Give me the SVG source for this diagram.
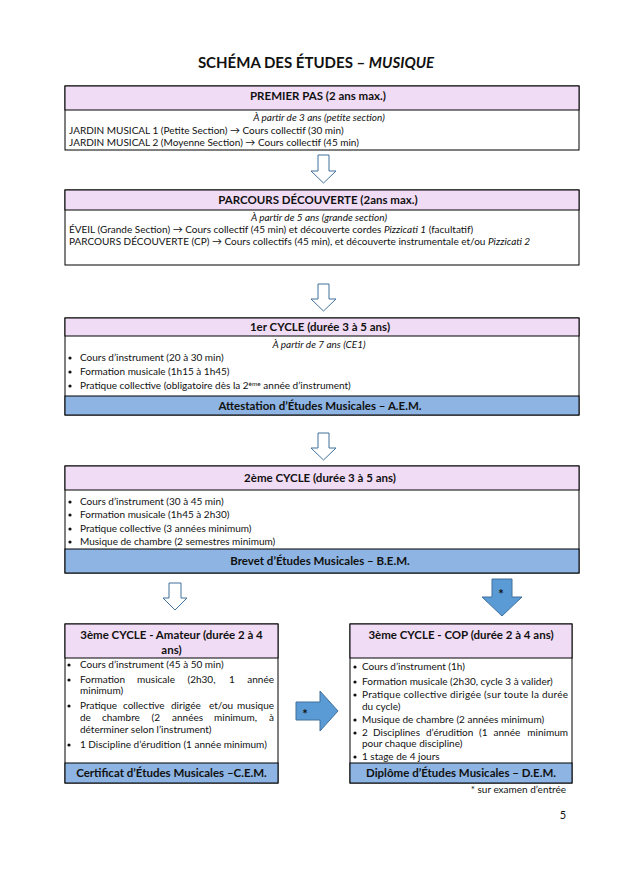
<svg xmlns="http://www.w3.org/2000/svg" width="632" height="879" viewBox="0 0 632 879">
<style>
text{font-family:Lato,"Open Sans","Liberation Sans",sans-serif;fill:#111}
.t{font-size:15px;font-weight:700}
.h{font-size:11.5px;font-weight:700;text-anchor:middle}
.b{font-size:10px}
.i{font-size:10px;font-style:italic;text-anchor:middle}
.s{font-size:13px;font-weight:700;text-anchor:middle}
.box{fill:#fff;stroke:#000;stroke-width:1}
.hd{fill:#F1DCF6;stroke:#000;stroke-width:1}
.bd{fill:#8DB4E2;stroke:#000;stroke-width:1}
.ah{fill:#fff;stroke:#41719C;stroke-width:1}
.af{fill:#5B9BD5;stroke:#41719C;stroke-width:1}
.e{text-anchor:end}
</style>
<defs><circle id="dot" r="1.6" fill="#111"/></defs>
<rect width="632" height="879" fill="#fff"/>
<text class="t" x="316" y="68" text-anchor="middle">SCHÉMA DES ÉTUDES – <tspan font-style="italic">MUSIQUE</tspan></text>

<g id="premier-pas">
<rect class="box" x="65" y="86" width="514" height="64"/>
<rect class="hd" x="65" y="86" width="514" height="24"/>
<text class="h" x="318" y="100">PREMIER PAS (2 ans max.)</text>
<text class="i" x="319" y="121">À partir de 3 ans (petite section)</text>
<text class="b" x="69" y="134">JARDIN MUSICAL 1 (Petite Section) → Cours collectif (30 min)</text>
<text class="b" x="69" y="146">JARDIN MUSICAL 2 (Moyenne Section) → Cours collectif (45 min)</text>
</g>

<g id="parcours-decouverte">
<rect class="box" x="65" y="190" width="514" height="75"/>
<rect class="hd" x="65" y="190" width="514" height="20"/>
<text class="h" x="318" y="204">PARCOURS DÉCOUVERTE (2ans max.)</text>
<text class="i" x="319" y="221">À partir de 5 ans (grande section)</text>
<text class="b" x="69" y="233">ÉVEIL (Grande Section) → Cours collectif (45 min) et découverte cordes <tspan font-style="italic">Pizzicati 1</tspan> (facultatif)</text>
<text class="b" x="69" y="245">PARCOURS DÉCOUVERTE (CP) → Cours collectifs (45 min), et découverte instrumentale et/ou <tspan font-style="italic">Pizzicati 2</tspan></text>
</g>

<g id="cycle1">
<rect class="box" x="65" y="318" width="514" height="97"/>
<rect class="hd" x="65" y="318" width="514" height="18"/>
<rect class="bd" x="65" y="396" width="514" height="19"/>
<text class="h" x="320" y="331">1er CYCLE (durée 3 à 5 ans)</text>
<text class="i" x="319" y="348">À partir de 7 ans (CE1)</text>
<use href="#dot" x="70" y="358"/><text class="b" x="80" y="361">Cours d’instrument (20 à 30 min)</text>
<use href="#dot" x="70" y="372"/><text class="b" x="80" y="375">Formation musicale (1h15 à 1h45)</text>
<use href="#dot" x="70" y="386"/><text class="b" x="80" y="389">Pratique collective (obligatoire dès la 2<tspan font-size="6.5" dy="-3.5">ème</tspan><tspan dy="3.5"> année d’instrument)</tspan></text>
<text class="h" x="320" y="409.5">Attestation d’Études Musicales – A.E.M.</text>
</g>

<g id="cycle2">
<rect class="box" x="65" y="466" width="514" height="107"/>
<rect class="hd" x="65" y="466" width="514" height="24"/>
<rect class="bd" x="65" y="549" width="514" height="24"/>
<text class="h" x="320" y="482">2ème CYCLE (durée 3 à 5 ans)</text>
<use href="#dot" x="70" y="502"/><text class="b" x="80" y="505">Cours d’instrument (30 à 45 min)</text>
<use href="#dot" x="70" y="515"/><text class="b" x="80" y="518">Formation musicale (1h45 à 2h30)</text>
<use href="#dot" x="70" y="529"/><text class="b" x="80" y="532">Pratique collective (3 années minimum)</text>
<use href="#dot" x="70" y="542"/><text class="b" x="80" y="545">Musique de chambre (2 semestres minimum)</text>
<text class="h" x="320" y="565">Brevet d’Études Musicales – B.E.M.</text>
</g>

<g id="cycle3-amateur">
<rect class="box" x="65" y="624" width="213" height="159"/>
<rect class="hd" x="65" y="624" width="213" height="34"/>
<rect class="bd" x="65" y="763" width="213" height="20"/>
<text class="h" x="171.5" y="639">3ème CYCLE - Amateur (durée 2 à 4</text>
<text class="h" x="171.5" y="654">ans)</text>
<use href="#dot" x="69" y="665"/><text class="b" x="80" y="668">Cours d’instrument (45 à 50 min)</text>
<use href="#dot" x="69" y="680"/><text class="b" y="683"><tspan x="80">Formation</tspan><tspan x="137">musicale</tspan><tspan x="187.5">(2h30,</tspan><tspan x="229">1</tspan></text><text class="b e" x="274" y="683">année</text>
<text class="b" x="80" y="694">minimum)</text>
<use href="#dot" x="69" y="706"/><text class="b" y="709"><tspan x="80">Pratique</tspan><tspan x="123">collective</tspan><tspan x="171">dirigée</tspan><tspan x="209">et/ou</tspan></text><text class="b e" x="274" y="709">musique</text>
<text class="b" y="721"><tspan x="80">de</tspan><tspan x="102">chambre</tspan><tspan x="151.5">(2</tspan><tspan x="172">années</tspan><tspan x="214">minimum,</tspan></text><text class="b e" x="274" y="721">à</text>
<text class="b" x="80" y="733">déterminer selon l’instrument)</text>
<use href="#dot" x="69" y="745"/><text class="b" x="80" y="748">1 Discipline d’érudition (1 année minimum)</text>
<text class="h" x="171.5" y="777">Certificat d’Études Musicales –C.E.M.</text>
</g>

<g id="cycle3-cop">
<rect class="box" x="350" y="624" width="222" height="159"/>
<rect class="hd" x="350" y="624" width="222" height="34"/>
<rect class="bd" x="350" y="763" width="222" height="20"/>
<text class="h" x="461" y="639">3ème CYCLE - COP (durée 2 à 4 ans)</text>
<use href="#dot" x="355" y="667"/><text class="b" x="362" y="670">Cours d’instrument (1h)</text>
<use href="#dot" x="355" y="682"/><text class="b" x="362" y="685">Formation musicale (2h30, cycle 3 à valider)</text>
<use href="#dot" x="355" y="695"/><text class="b" x="362" y="698" textLength="206" lengthAdjust="spacing">Pratique collective dirigée (sur toute la durée</text>
<text class="b" x="362" y="710">du cycle)</text>
<use href="#dot" x="355" y="720"/><text class="b" x="362" y="723">Musique de chambre (2 années minimum)</text>
<use href="#dot" x="355" y="733"/><text class="b" y="736"><tspan x="362">2</tspan><tspan x="373">Disciplines</tspan><tspan x="426">d’érudition</tspan><tspan x="479">(1</tspan><tspan x="493.5">année</tspan></text><text class="b e" x="568" y="736">minimum</text>
<text class="b" x="362" y="747">pour chaque discipline)</text>
<use href="#dot" x="355" y="757"/><text class="b" x="362" y="760">1 stage de 4 jours</text>
<text class="h" x="461" y="777">Diplôme d’Études Musicales – D.E.M.</text>
</g>

<g id="connectors">
<path class="ah" d="M318,155H329V171H336L323.5,183L311,171H318Z"/>
<path class="ah" d="M318,284H329V299H336L323.5,311L311,299H318Z"/>
<path class="ah" d="M318,433H329V448H336L323.5,460L311,448H318Z"/>
<path class="ah" d="M169,583H181V598H187L175,610L163,598H169Z"/>
<path class="af" d="M492,579H512V597H522L502,616L482,597H492Z"/>
<text class="s" x="501" y="599">*</text>
<path class="af" d="M296,702H320V691L338,711L320,731V720H296Z"/>
<text class="s" x="305" y="719">*</text>
</g>

<text class="b e" x="566" y="793" font-size="8.5">* sur examen d’entrée</text>
<text x="563" y="819" font-size="11" text-anchor="middle">5</text>
</svg>
